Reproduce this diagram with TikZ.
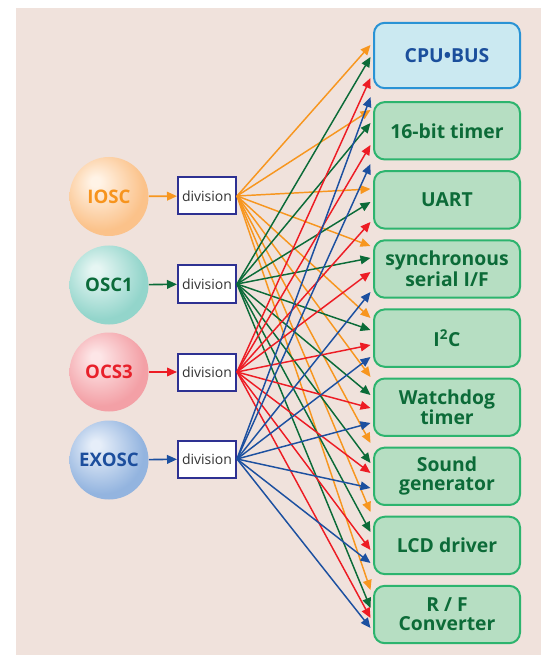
\documentclass[tikz,border=0pt]{standalone}
\usepackage{fontspec}
\setmainfont{Open Sans}
\usetikzlibrary{arrows.meta,calc}
\definecolor{bg}{HTML}{F0E2DC}
\definecolor{cO}{HTML}{F7961F}
\definecolor{cG}{HTML}{0B6B38}
\definecolor{cR}{HTML}{ED1C24}
\definecolor{cB}{HTML}{1C50A0}
\definecolor{tO}{HTML}{F7941D}
\definecolor{tG}{HTML}{0B6B3A}
\definecolor{tR}{HTML}{E8202A}
\definecolor{tB}{HTML}{1C4E9D}
\definecolor{hlO}{HTML}{FFF3E6}
\definecolor{baseO}{HTML}{FBC28A}
\definecolor{hlG}{HTML}{E6F6F3}
\definecolor{baseG}{HTML}{93D5CB}
\definecolor{hlR}{HTML}{FDE6E7}
\definecolor{baseR}{HTML}{F3A0A6}
\definecolor{hlB}{HTML}{E6EEF9}
\definecolor{baseB}{HTML}{93B4DF}
\definecolor{divedge}{HTML}{2E3192}
\definecolor{grnfill}{HTML}{B6DEC2}
\definecolor{grnedge}{HTML}{2DB46E}
\definecolor{grntext}{HTML}{0C6B38}
\definecolor{cpufill}{HTML}{CBE9F1}
\definecolor{cpuedge}{HTML}{2A93D5}
\definecolor{cputext}{HTML}{1B4F9C}
\pgfdeclareradialshading{orbO}{\pgfpoint{-9bp}{10bp}}{color(0bp)=(hlO); color(3bp)=(hlO); color(27bp)=(baseO); color(60bp)=(baseO)}
\pgfdeclareradialshading{orbG}{\pgfpoint{-9bp}{10bp}}{color(0bp)=(hlG); color(3bp)=(hlG); color(27bp)=(baseG); color(60bp)=(baseG)}
\pgfdeclareradialshading{orbR}{\pgfpoint{-9bp}{10bp}}{color(0bp)=(hlR); color(3bp)=(hlR); color(27bp)=(baseR); color(60bp)=(baseR)}
\pgfdeclareradialshading{orbB}{\pgfpoint{-9bp}{10bp}}{color(0bp)=(hlB); color(3bp)=(hlB); color(27bp)=(baseB); color(60bp)=(baseB)}
\newcommand\fanarrow[4]{\draw[fan,#1] (#2.east) -- ($(#3.west)+(-2.5,#4)$);}
\begin{document}
\begin{tikzpicture}[x=0.75pt,y=-0.75pt,
  orb/.style={circle,minimum size=59.25pt,inner sep=0pt,font=\fontsize{14}{15}\selectfont\bfseries},
  divbox/.style={draw=divedge,fill=white,line width=1.5pt,minimum width=43.5pt,minimum height=27.75pt,inner sep=0pt,font=\fontsize{10.5}{12}\selectfont,text=black!80},
  tbox/.style={draw=grnedge,fill=grnfill,line width=1.5pt,rounded corners=8pt,minimum width=109.5pt,minimum height=43pt,inner sep=0pt,align=center,text=grntext,font=\fontsize{14.5}{14}\selectfont\bfseries},
  feed/.style={line width=1.2pt,-{Triangle[length=7.5pt,width=6.5pt]}},
  fan/.style={line width=1.1pt,-{Triangle[length=7.5pt,width=6.5pt]}}]
\useasboundingbox (0,0) rectangle (541,655);
\fill[bg] (16,8) rectangle (541,655);
% oscillators
\node[orb,shading=orbO,text=tO] (iosc) at (109,196.5) {IOSC};
\node[orb,shading=orbG,text=tG] (osc1) at (109,285) {OSC1};
\node[orb,shading=orbR,text=tR] (ocs3) at (109,372) {OCS3};
\node[orb,shading=orbB,text=tB] (exosc) at (109,460) {EXOSC};
% division boxes
\node[divbox] (divO) at (207,196) {division};
\node[divbox] (divG) at (207,284) {division};
\node[divbox] (divR) at (207,372) {division};
\node[divbox] (divB) at (207,459) {division};
\draw[feed,cO] (iosc) -- (divO);
\draw[feed,cG] (osc1) -- (divG);
\draw[feed,cR] (ocs3) -- (divR);
\draw[feed,cB] (exosc) -- (divB);
% targets
\node[tbox,draw=cpuedge,fill=cpufill,text=cputext,minimum height=49pt] (cpu) at (447,55.5) {CPU\textbullet BUS};
\node[tbox] (tim) at (447,130.8) {16-bit timer};
\node[tbox] (uart) at (447,199.9) {UART};
\node[tbox] (ssif) at (447,269) {synchronous\\serial I/F};
\node[tbox] (iic) at (447,338.1) {I\textsuperscript{2}C};
\node[tbox] (wdt) at (447,407.2) {Watchdog\\timer};
\node[tbox] (snd) at (447,476.3) {Sound\\generator};
\node[tbox] (lcd) at (447,545.4) {LCD driver};
\node[tbox] (rfc) at (447,614.5) {R / F\\Converter};
% orange fan
\fanarrow{cO}{divO}{cpu}{-10.5}
\fanarrow{cO}{divO}{tim}{-20.8}
\fanarrow{cO}{divO}{uart}{-10.9}
\fanarrow{cO}{divO}{ssif}{-23}
\fanarrow{cO}{divO}{iic}{-20.1}
\fanarrow{cO}{divO}{wdt}{-30.2}
\fanarrow{cO}{divO}{snd}{-33.3}
\fanarrow{cO}{divO}{lcd}{-33.4}
\fanarrow{cO}{divO}{rfc}{-24.5}
% green fan
\fanarrow{cG}{divG}{cpu}{1.5}
\fanarrow{cG}{divG}{tim}{-7.8}
\fanarrow{cG}{divG}{uart}{2.1}
\fanarrow{cG}{divG}{ssif}{-11}
\fanarrow{cG}{divG}{iic}{-8.1}
\fanarrow{cG}{divG}{wdt}{-12.2}
\fanarrow{cG}{divG}{snd}{-13.3}
\fanarrow{cG}{divG}{lcd}{-13.4}
\fanarrow{cG}{divG}{rfc}{-6.5}
% red fan
\fanarrow{cR}{divR}{cpu}{22.5}
\fanarrow{cR}{divR}{tim}{14.2}
\fanarrow{cR}{divR}{uart}{22.1}
\fanarrow{cR}{divR}{ssif}{3}
\fanarrow{cR}{divR}{iic}{6.9}
\fanarrow{cR}{divR}{wdt}{0.8}
\fanarrow{cR}{divR}{snd}{-3.3}
\fanarrow{cR}{divR}{lcd}{4.6}
\fanarrow{cR}{divR}{rfc}{3.5}
% blue fan
\fanarrow{cB}{divB}{cpu}{41.5}
\fanarrow{cB}{divB}{tim}{33.2}
\fanarrow{cB}{divB}{ssif}{23}
\fanarrow{cB}{divB}{iic}{18.9}
\fanarrow{cB}{divB}{wdt}{15.8}
\fanarrow{cB}{divB}{snd}{11.7}
\fanarrow{cB}{divB}{lcd}{17.6}
\fanarrow{cB}{divB}{rfc}{13.5}
\end{tikzpicture}
\end{document}
